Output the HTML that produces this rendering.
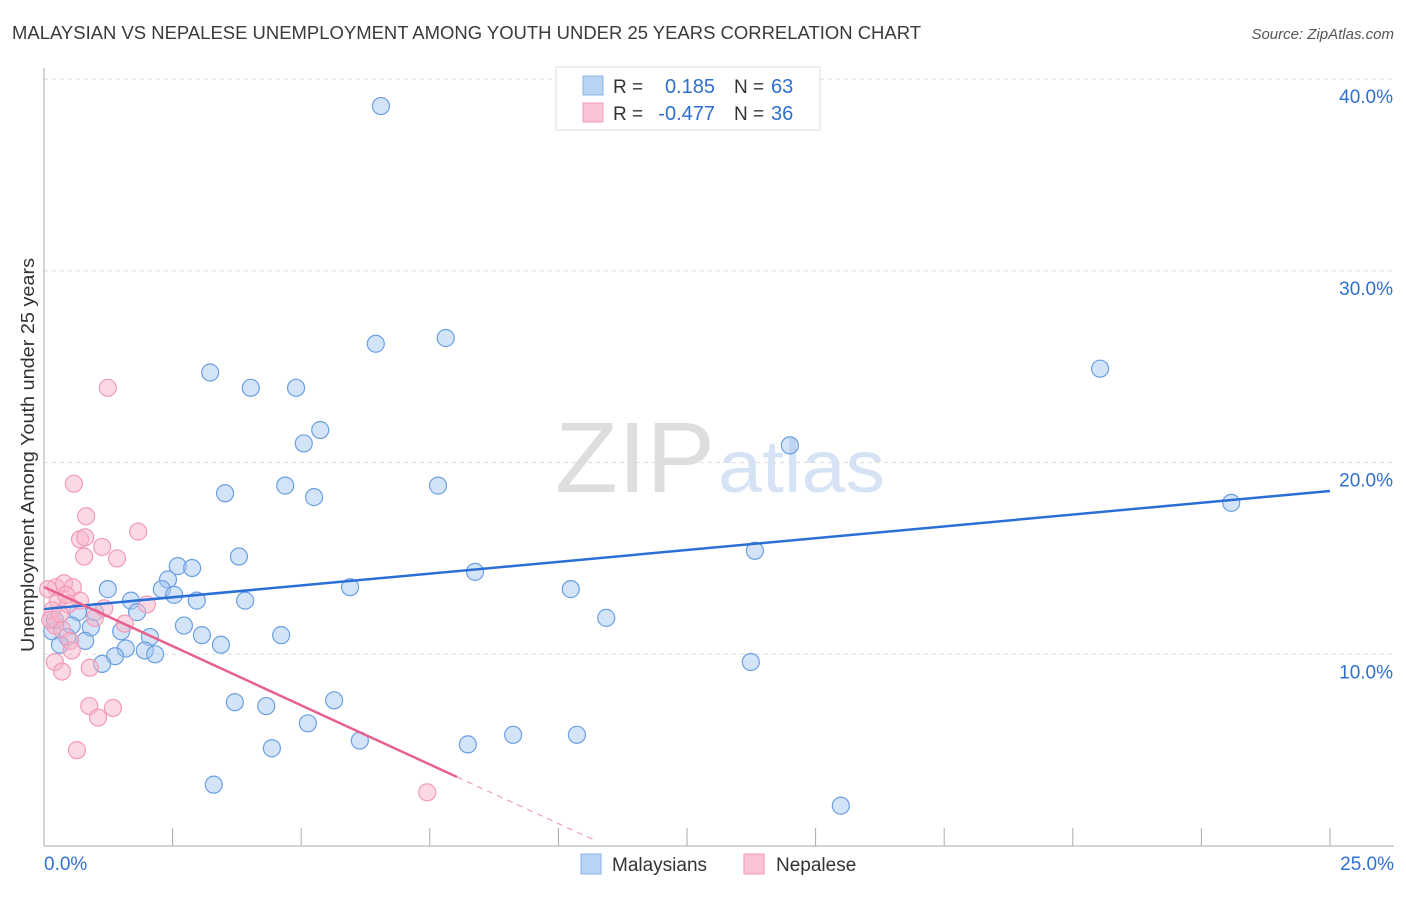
<!DOCTYPE html>
<html><head><meta charset="utf-8"><style>
body{margin:0;background:#fff;font-family:"Liberation Sans",sans-serif;}
svg text{font-family:"Liberation Sans",sans-serif;}
</style></head><body>
<svg id="chart" width="1406" height="892" xmlns="http://www.w3.org/2000/svg">
<text x="12" y="39" font-size="18" fill="#3a3a3a" textLength="909" lengthAdjust="spacingAndGlyphs">MALAYSIAN VS NEPALESE UNEMPLOYMENT AMONG YOUTH UNDER 25 YEARS CORRELATION CHART</text>
<text x="1394" y="39" font-size="15" fill="#555" text-anchor="end" font-style="italic">Source: ZipAtlas.com</text>
<text x="34" y="455" font-size="18" fill="#333" text-anchor="middle" textLength="394" lengthAdjust="spacingAndGlyphs" transform="rotate(-90 34 455)">Unemployment Among Youth under 25 years</text>
<text x="555" y="492" font-size="100" fill="#dedede" font-family="Liberation Serif" textLength="160" lengthAdjust="spacingAndGlyphs">ZIP</text>
<text x="718" y="492" font-size="74" fill="#d5e3f5" textLength="167" lengthAdjust="spacingAndGlyphs">atlas</text>
<g id="grid"></g><g id="axes"></g><g id="marks"></g>
<g>
<rect x="556" y="67" width="264" height="63" fill="#fff" stroke="#ddd"/>
<rect x="583" y="76" width="20" height="19" fill="#b9d3f5" stroke="#8ab3e8"/>
<rect x="583" y="103" width="20" height="19" fill="#f9c5d5" stroke="#f09ab5"/>
<text x="613" y="93" font-size="19" fill="#333">R = </text><text x="715" y="93" font-size="20" fill="#2f6fd0" text-anchor="end">0.185</text>
<text x="734" y="93" font-size="19" fill="#333">N = </text><text x="771" y="93" font-size="20" fill="#2f6fd0">63</text>
<text x="613" y="120" font-size="19" fill="#333">R = </text><text x="715" y="120" font-size="20" fill="#2f6fd0" text-anchor="end">-0.477</text>
<text x="734" y="120" font-size="19" fill="#333">N = </text><text x="771" y="120" font-size="20" fill="#2f6fd0">36</text>
</g>
<g>
<rect x="581" y="854" width="20" height="20" fill="#b9d3f5" stroke="#8ab3e8"/>
<text x="612" y="871" font-size="19" fill="#333">Malaysians</text>
<rect x="744" y="854" width="20" height="20" fill="#f9c5d5" stroke="#f09ab5"/>
<text x="776" y="871" font-size="19" fill="#333">Nepalese</text>
</g>
</svg>
<script>
const blueX=[6.55,6.45,7.81,3.23,4.02,4.90,5.37,5.05,20.53,14.50,3.52,4.69,5.25,7.66,23.08,3.79,13.82,2.60,2.88,2.41,8.38,2.29,2.53,1.24,5.95,10.24,1.69,2.97,3.91,1.81,0.99,0.66,10.93,2.72,0.91,0.54,1.50,3.07,4.61,2.06,0.16,0.45,0.80,3.44,0.31,1.59,1.96,2.16,1.38,1.13,13.74,3.71,4.32,5.64,5.13,6.14,4.43,8.24,9.12,10.36,3.30,15.49,0.21];
const blueY=[38.6,26.2,26.5,24.7,23.9,23.9,21.7,21.0,24.9,20.9,18.4,18.8,18.2,18.8,17.9,15.1,15.4,14.6,14.5,13.9,14.3,13.4,13.1,13.4,13.5,13.4,12.8,12.8,12.8,12.2,12.2,12.2,11.9,11.5,11.4,11.5,11.2,11.0,11.0,10.9,11.2,10.9,10.7,10.5,10.5,10.3,10.2,10.0,9.9,9.5,9.6,7.5,7.3,7.6,6.4,5.5,5.1,5.3,5.8,5.8,3.2,2.1,11.8];
const pinkX=[1.24,0.58,0.82,1.83,0.70,0.80,1.13,0.78,1.42,0.23,0.39,0.56,0.27,0.70,0.47,2.00,1.17,0.99,0.16,1.57,0.21,0.35,0.51,0.54,0.21,0.35,0.89,0.88,1.34,1.05,0.64,7.45,0.12,0.31,0.43,0.08];
const pinkY=[23.9,18.9,17.2,16.4,16.0,16.1,15.6,15.1,15.0,13.5,13.7,13.5,12.8,12.8,12.6,12.6,12.4,11.9,12.3,11.6,11.5,11.3,10.7,10.2,9.6,9.1,9.3,7.3,7.2,6.7,5.0,2.8,11.8,12.1,13.1,13.4];
const blueTrend=[12.36,18.52];
const pinkTrend=[13.51,-1.234];
const pinkSolidEnd=8.03, pinkDashEnd=10.7;
const yTicks=[10,20,30,40];
const xTickLabels=["0.0%","25.0%"];

const NS="http://www.w3.org/2000/svg";
const sx=v=>44+v/25*1286;
const sy=v=>846-v/10*191.7;
function mk(tag,attrs,parent){const e=document.createElementNS(NS,tag);for(const k in attrs)e.setAttribute(k,attrs[k]);parent.appendChild(e);return e;}
const grid=document.getElementById('grid'),axes=document.getElementById('axes'),marks=document.getElementById('marks');
yTicks.forEach(t=>{
  const l=mk('line',{x1:44,x2:1394,y1:sy(t),y2:sy(t),stroke:'#ddd','stroke-dasharray':'4,4'},grid);
  
  
  const tx=mk('text',{x:1393,y:sy(t)+24,'font-size':19,fill:'#2f6fd0','text-anchor':'end'},axes);
  tx.textContent=t.toFixed(1)+'%';
  
  
});
let a=mk('line',{x1:44,x2:44,y1:68,y2:846,stroke:'#aaa'},axes);


a=mk('line',{x1:44,x2:1394,y1:846,y2:846,stroke:'#aaa'},axes);


for(let i=1;i<=10;i++){const t=mk('line',{x1:sx(i*2.5),x2:sx(i*2.5),y1:828,y2:846,stroke:'#aaa'},axes);
  
  }
let t0=mk('text',{x:44,y:870,'font-size':19,fill:'#2f6fd0'},axes);t0.textContent=xTickLabels[0];


let t1=mk('text',{x:1394,y:870,'font-size':19,fill:'#2f6fd0','text-anchor':'end'},axes);t1.textContent=xTickLabels[1];



blueX.forEach((x,i)=>{const c=mk('circle',{cx:sx(x),cy:sy(blueY[i]),r:8.5,fill:'rgba(160,196,240,0.45)',stroke:'#6a9fe2','stroke-width':1.2},marks);
  
  });
pinkX.forEach((x,i)=>{const c=mk('circle',{cx:sx(x),cy:sy(pinkY[i]),r:8.5,fill:'rgba(248,180,200,0.5)',stroke:'#f29ab8','stroke-width':1.2},marks);
  
  });
let bl=mk('line',{x1:sx(0),y1:sy(blueTrend[0]),x2:sx(25),y2:sy(blueTrend[1]),stroke:'#2a6fd6','stroke-width':2.5},marks);


const pf=x=>pinkTrend[0]+pinkTrend[1]*x;
let pl=mk('line',{x1:sx(0),y1:sy(pf(0)),x2:sx(pinkSolidEnd),y2:sy(pf(pinkSolidEnd)),stroke:'#e8608e','stroke-width':2.5},marks);


let pd=mk('line',{x1:sx(pinkSolidEnd),y1:sy(pf(pinkSolidEnd)),x2:sx(pinkDashEnd),y2:sy(pf(pinkDashEnd)),stroke:'#f0a0bb','stroke-width':1.2,'stroke-dasharray':'6,5'},marks);


</script>
</body></html>
